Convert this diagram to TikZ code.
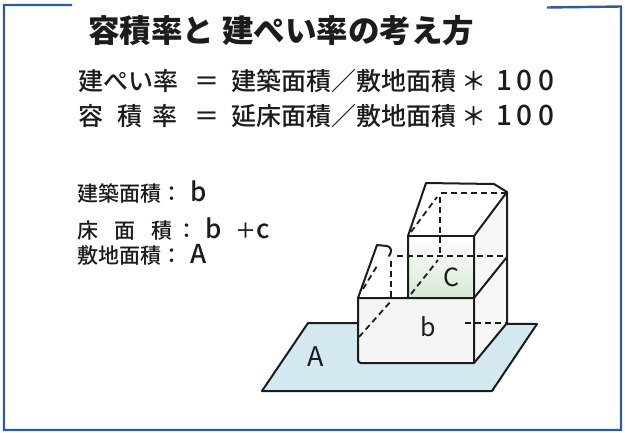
\documentclass[tikz,border=0pt]{standalone}
\usepackage{fontspec}
\newfontfamily\jp{Noto Sans CJK JP}
\newfontfamily\jpm{Noto Sans CJK JP Medium}
\definecolor{framecol}{HTML}{2E5B9C}
\definecolor{ink}{HTML}{1C1C1C}
\definecolor{ground}{HTML}{D3E8F1}
\definecolor{wallb}{HTML}{F3F6F2}
\definecolor{wallc}{HTML}{D6E8D5}
\definecolor{side}{HTML}{F6F8F6}
\newcommand\lat[1]{{\fontsize{26}{30}\selectfont #1}}
\newcommand\dig[1]{{\fontsize{28}{30}\selectfont #1}}
\begin{document}
\begin{tikzpicture}[x=1pt,y=-1pt,
  txt/.style={inner sep=0pt, anchor=base west, text=ink},
  heading/.style={txt, font={\jp\bfseries\fontsize{31.5}{36}\selectfont}},
  formula/.style={txt, font={\jpm\fontsize{25}{30}\selectfont}},
  legend/.style={txt, font={\jpm\fontsize{21}{25}\selectfont}},
  tag/.style={inner sep=0pt, text=ink, font={\jp\fontsize{25}{30}\selectfont}},
  edge/.style={draw=ink, line width=2pt, line join=round, line cap=round},
  hidden/.style={draw=ink, line width=1.8pt, dash pattern=on 6pt off 4pt},
  frameline/.style={draw=framecol, line width=2.4pt, line join=miter}
]
\useasboundingbox (0,0) rectangle (625,432);
\fill[white] (0,0) rectangle (625,432);

% open frame
\draw[frameline] (72,5) -- (4,5) -- (4,430) -- (621,430) -- (621,6.5) -- (547,7.5);

% heading
\node[heading] (title) at (88,42) {容積率と\hspace{8pt}建ぺい率の考え方};

% formulas
\node[formula] (f1a) at (78,90) {建ぺい率};
\node[formula] (f1eq) at (194,90) {＝};
\node[formula] (f1b) at (231,90) {建築面積／敷地面積\hspace{5pt}＊\hspace{10pt}\dig{1}\hspace{4pt}\dig{0}\hspace{6pt}\dig{0}};
\node[formula] (f2a) at (78,125) {容\hspace{14pt}積\hspace{10pt}率};
\node[formula] (f2eq) at (194,125) {＝};
\node[formula] (f2b) at (231,125) {延床面積／敷地面積\hspace{5pt}＊\hspace{10pt}\dig{1}\hspace{4pt}\dig{0}\hspace{6pt}\dig{0}};

% legend
\node[legend] (k1) at (77,201.5) {建築面積：\hspace{8pt}\lat{b}};
\node[legend] (k2) at (77,238) {床\hspace{16pt}面\hspace{16pt}積\hspace{4pt}：\hspace{8pt}\lat{b}\hspace{14pt}＋\lat{c}};
\node[legend] (k3) at (77,263) {敷地面積：\hspace{8pt}\lat{A}};

% site plane
\filldraw[fill=ground, edge] (308,323) -- (537,324) -- (492,391) -- (262,391) -- cycle;

% building faces
\fill[wallb] (358,298) rectangle (474,363);
\fill[side] (474,298) -- (507,257) -- (507,323) -- (474,363) -- cycle;
\fill[top color=white, bottom color=wallc] (408,236) rectangle (474,298);
\fill[side] (474,236) -- (507,193) -- (507,257) -- (474,298) -- cycle;
\fill[white] (408,236) -- (426,183) -- (494,184) -- (507,192) -- (474,236) -- cycle;
\fill[white] (358,298) -- (377,245) -- (390,247) -- (392,256) -- (408,256) -- (408,298) -- cycle;

% hidden edges
\draw[hidden] (359,337) -- (392,300);
\draw[hidden] (465,323) -- (507,323);
\draw[hidden] (397,256) -- (507,256);
\draw[hidden] (391,261) -- (391,298);
\draw[hidden] (363,289) -- (377,266);
\draw[hidden] (441,193) -- (507,193);
\draw[hidden] (440,197) -- (440,256);
\draw[hidden] (411,232) -- (437,197);
\draw[hidden] (411,294) -- (438,260);

% visible edges
\draw[edge] (474,298) -- (358,298) -- (358,360) to[out=-90,in=180] (361,363) -- (474,363) -- (474,236);
\draw[edge] (474,363) -- (507,323) -- (507,192);
\draw[edge] (474,298) -- (507,257);
\draw[edge] (474,236) -- (507,192);
\draw[edge] (408,298) -- (408,236) -- (426,183) -- (494,184) -- (507,192);
\draw[edge] (408,236) -- (474,236);
\draw[edge] (358,298) -- (377,245) -- (387,246) .. controls (392,247) and (392,252) .. (389,256);

% area labels
\node[tag, font={\jp\fontsize{27}{30}\selectfont}] (lblA) at (316,357) {A};
\node[tag] (lblb) at (428,327) {b};
\node[tag] (lblc) at (451,277) {C};
\end{tikzpicture}
\end{document}
